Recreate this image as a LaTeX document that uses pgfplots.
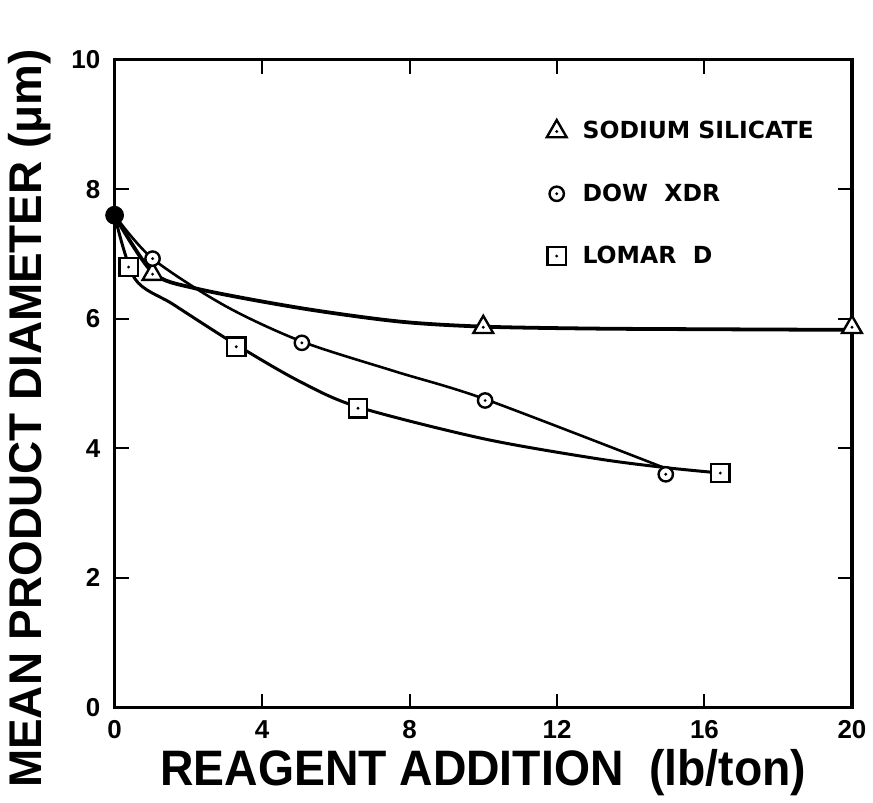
\documentclass[border=0pt]{standalone}
\usepackage{pgfplots}
\pgfplotsset{compat=1.18}
\usepackage{fontspec}
\setmainfont{Liberation Sans}
\newfontfamily\legfont{DejaVu Sans}

\pgfdeclareplotmark{tridot}{%
  \pgfpathmoveto{\pgfpointpolar{90}{1.15\pgfplotmarksize}}%
  \pgfpathlineto{\pgfpointpolar{210}{1.15\pgfplotmarksize}}%
  \pgfpathlineto{\pgfpointpolar{330}{1.15\pgfplotmarksize}}%
  \pgfpathclose
  \pgfusepathqfillstroke
  \begin{pgfscope}\pgfsetfillcolor{black}\pgfpathcircle{\pgfpointorigin}{0.8pt}\pgfusepathqfill\end{pgfscope}%
}
\pgfdeclareplotmark{circdot}{%
  \pgfpathcircle{\pgfpointorigin}{\pgfplotmarksize}%
  \pgfusepathqfillstroke
  \begin{pgfscope}\pgfsetfillcolor{black}\pgfpathcircle{\pgfpointorigin}{0.8pt}\pgfusepathqfill\end{pgfscope}%
}
\pgfdeclareplotmark{sqdot}{%
  \begin{pgfscope}%
  \pgfsetcornersarced{\pgfpoint{1.5pt}{1.5pt}}%
  \pgfpathrectangle{\pgfpoint{-\pgfplotmarksize}{-\pgfplotmarksize}}{\pgfpoint{2\pgfplotmarksize}{2\pgfplotmarksize}}%
  \pgfusepathqfillstroke
  \end{pgfscope}%
  \begin{pgfscope}\pgfsetfillcolor{black}\pgfpathcircle{\pgfpointorigin}{0.8pt}\pgfusepathqfill\end{pgfscope}%
}

\begin{document}
\begin{tikzpicture}
\begin{axis}[
  name=ax,
  scale only axis, width=370pt, height=325pt,
  xmin=0, xmax=20, ymin=0, ymax=10,
  xtick={0,4,8,12,16,20}, ytick={0,2,4,6,8,10},
  tick align=inside, major tick length=7pt,
  axis line style={line width=1.6pt},
  every tick/.style={line width=1pt,black},
  /pgf/number format/assume math mode=true,
  ticklabel style={font=\fontsize{13}{13}\selectfont\bfseries},
  xticklabel style={yshift=-3pt},
  yticklabel style={xshift=-3.7pt},
  xlabel={REAGENT ADDITION\ \ (lb/ton)},
  ylabel={MEAN PRODUCT DIAMETER\ (μm)},
  xlabel style={at={([yshift=-39pt]axis description cs:0.5,0)}, anchor=base, font=\fontsize{25}{25}\selectfont\bfseries, xscale=0.93},
  ylabel style={at={([xshift=-36.5pt,yshift=-17.5pt]axis description cs:0,0.5)}, anchor=base, font=\fontsize{23}{23}\selectfont\bfseries},
  legend style={draw=none, fill=none, at={(axis cs:11.55,9.18)}, anchor=north west, font=\legfont\bfseries\fontsize{11.8}{11.8}\selectfont, row sep=17pt, column sep=6pt},
  legend cell align=left,
  clip=false,
]
% fitted curves
\addplot[smooth, tension=0.5, line width=1.9pt, forget plot] coordinates {
  (0,7.6) (1.03,6.72) (2.2,6.47) (5,6.17) (7.7,5.96) (10,5.88) (13,5.85) (16,5.84) (20,5.83)};
\addplot[smooth, tension=0.5, line width=1.3pt, forget plot] coordinates {
  (0,7.6) (1.03,6.93) (3,6.2) (5.08,5.65) (7.6,5.19) (10.05,4.76) (15,3.68)};
\addplot[smooth, tension=0.5, line width=1.5pt, forget plot] coordinates {
  (0,7.6) (0.55,6.62) (1.6,6.22) (3.3,5.6) (5,5.04) (6.6,4.64) (10,4.15) (13.1,3.84) (15,3.7) (16.43,3.62)};
% data points
\addplot[only marks, mark=tridot, mark size=5pt, mark options={fill=white, draw=black, line width=1.2pt}]
  coordinates {(1.03,6.69) (10.0,5.87) (20.0,5.87)};
\addlegendentry{SODIUM SILICATE}
\addplot[only marks, mark=circdot, mark size=3.6pt, mark options={fill=white, draw=black, line width=1.2pt}]
  coordinates {(1.03,6.93) (5.08,5.63) (10.05,4.74) (14.95,3.6)};
\addlegendentry{DOW\ \ XDR}
\addplot[only marks, mark=sqdot, mark size=4.6pt, mark options={fill=white, draw=black, line width=1.2pt}]
  coordinates {(0.38,6.8) (3.3,5.57) (6.6,4.62) (16.43,3.62)};
\addlegendentry{LOMAR\ \ D}
\addplot[only marks, mark=*, mark size=4.5pt, black, forget plot] coordinates {(0,7.6)};
\end{axis}
\path ([xshift=-57.5pt,yshift=-44.5pt]ax.south west) rectangle ([xshift=9pt,yshift=30pt]ax.north east);
\end{tikzpicture}
\end{document}
